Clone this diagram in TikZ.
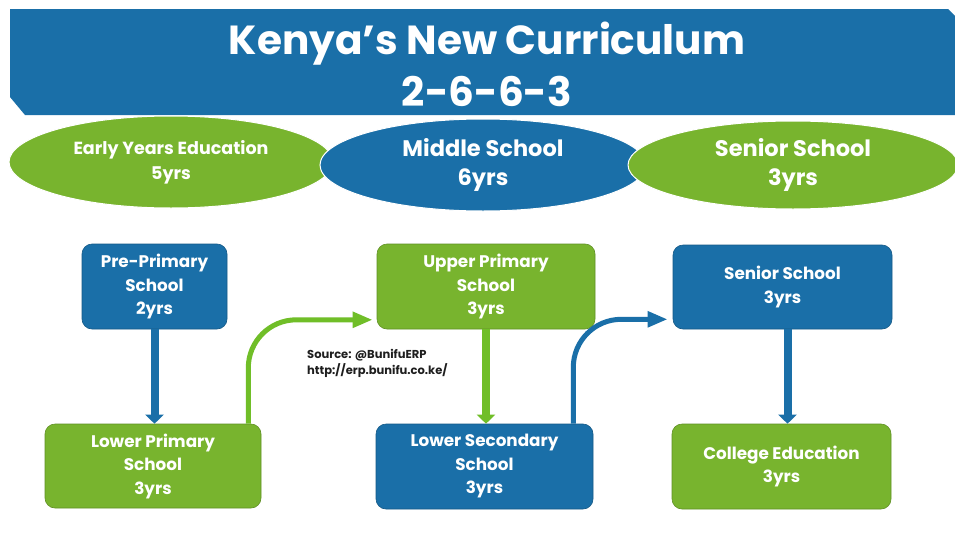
\documentclass[tikz,border=0pt]{standalone}
\usepackage{fontspec}
\setmainfont{Poppins}
\usetikzlibrary{arrows.meta,shapes.geometric}
\definecolor{kblue}{RGB}{26,111,168}
\definecolor{kgreen}{RGB}{120,180,46}
\definecolor{kgarrow}{RGB}{112,190,40}
\definecolor{kdark}{RGB}{30,30,30}
\tikzset{
  boxstyle/.style={rounded corners=10pt, align=center, text=white, font=\fontsize{16.8}{23.5}\selectfont\bfseries, inner sep=0pt},
  bluebox/.style={boxstyle, fill=kblue, draw=kblue!80!black, line width=0.6pt},
  greenbox/.style={boxstyle, fill=kgreen, draw=kgreen!80!black, line width=0.6pt},
  ellstyle/.style={ellipse, inner sep=0pt, align=center, text=white},
  bigarrowblue/.style={draw=kblue, line width=8pt, -{Triangle[length=9pt,width=18pt]}},
  bigarrowgreen/.style={draw=kgarrow, line width=8pt, -{Triangle[length=9pt,width=18pt]}},
  curvearrow/.style={line width=5pt, rounded corners=48pt, -{Triangle[length=20pt,width=15pt]}},
}
\begin{document}
\begin{tikzpicture}[x=1pt,y=-1pt]
\useasboundingbox (0,0) rectangle (955,546);
\fill[white] (0,0) rectangle (955,546);
% banner
\fill[kblue] (10,9) -- (948,9) -- (957,18) -- (957,115) -- (25,115) -- (10,97) -- cycle;
\node[text=white, font=\fontsize{40.6}{52}\selectfont\bfseries, align=center] (title) at (487,64) {Kenya’s New Curriculum\\2-6-6-3};
% ellipses
\node[ellstyle, fill=kgreen, draw=white, line width=1pt, minimum width=324pt, minimum height=92pt, font=\fontsize{17.5}{25}\selectfont\bfseries] (ell1) at (171,162) {Early Years Education\\5yrs};
\node[ellstyle, fill=kblue, draw=white, line width=1pt, minimum width=326pt, minimum height=92pt, font=\fontsize{22.5}{29}\selectfont\bfseries] (ell2) at (483,165) {Middle School\\6yrs};
\node[ellstyle, fill=kgreen, draw=white, line width=1pt, minimum width=330pt, minimum height=88pt, font=\fontsize{22.5}{29}\selectfont\bfseries] (ell3) at (793,165) {Senior School\\3yrs};
% boxes
\node[bluebox, minimum width=145pt, minimum height=85pt] (pre) at (154.5,286.5) {Pre-Primary\\School\\2yrs};
\node[greenbox, minimum width=216pt, minimum height=84pt] (lowp) at (153,466) {Lower Primary\\School\\3yrs};
\node[greenbox, minimum width=218pt, minimum height=85pt] (upp) at (486,286.5) {Upper Primary\\School\\3yrs};
\node[bluebox, minimum width=217pt, minimum height=85pt] (lows) at (484.5,466.5) {Lower Secondary\\School\\3yrs};
\node[bluebox, minimum width=219pt, minimum height=84pt] (sen) at (782.5,287) {Senior School\\3yrs};
\node[greenbox, minimum width=219pt, minimum height=85pt] (col) at (781.5,466.5) {College Education\\3yrs};
% source
\node[anchor=north west, align=left, text=kdark, inner sep=0pt, font=\fontsize{11.5}{16.5}\selectfont\bfseries] (src) at (307,349) {Source: @BunifuERP\\http://erp.bunifu.co.ke/};
% arrows
\draw[bigarrowblue] (pre.south) -- (pre.south |- lowp.north);
\draw[bigarrowgreen] (upp.south) -- (upp.south |- lowp.north);
\draw[bigarrowblue] ([xshift=5pt]sen.south) -- ([xshift=5pt]sen.south |- col.north);
\draw[curvearrow, draw=kgarrow] ([xshift=-13pt]lowp.north east) |- ([xshift=-4pt,yshift=9.5pt]upp.south west);
\draw[curvearrow, draw=kblue] ([xshift=-20pt]lows.north east) |- ([xshift=-5pt,yshift=10pt]sen.south west);
\end{tikzpicture}
\end{document}
